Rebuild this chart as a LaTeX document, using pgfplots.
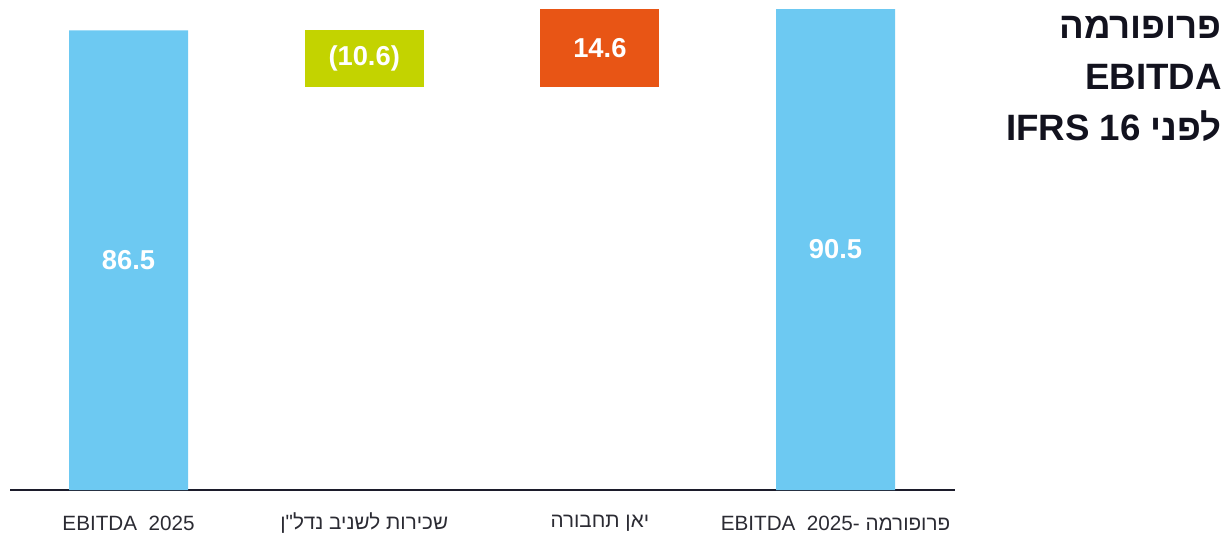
\documentclass[border=0pt]{standalone}
\usepackage{pgfplots}
\pgfplotsset{compat=1.18}
\usepackage{fontspec}
\setmainfont{Liberation Sans}
\newfontfamily\hebfont[Script=Hebrew]{Liberation Sans}
\TeXXeTstate=1
\definecolor{cblue}{HTML}{6DC9F2}
\definecolor{cgreen}{HTML}{C3D300}
\definecolor{corange}{HTML}{E85515}
\definecolor{axiscol}{HTML}{1C1C2B}
\definecolor{labcol}{HTML}{2B2B33}
\definecolor{titcol}{HTML}{12121E}
\pgfplotsset{
  common/.style={
    scale only axis,
    width=708.75pt, height=367.5pt,
    at={(7.5pt,35.25pt)}, anchor=south west,
    xmin=-0.503, xmax=3.507, ymin=0, ymax=92.2,
    clip=false,
  }
}
\begin{document}
\begin{tikzpicture}
\path[use as bounding box] (0,0) rectangle (920.25pt,402.75pt);
\begin{axis}[common,
  ybar stacked, bar width=89.25pt,
  axis x line=bottom, axis y line=none,
  x axis line style={-, draw=axiscol, line width=1.3pt},
  xtick={0,1,2,3}, major tick length=0pt, ytick=\empty,
  xticklabels={{EBITDA\ \ 2025},
    {\hebfont\beginR שכירות לשניב נדל"ן\endR},
    {\hebfont\beginR יאן תחבורה\endR},
    {\hebfont\beginR פרופורמה -\beginL EBITDA\ \ 2025\endL\endR}},
  xticklabel style={anchor=center, yshift=-25pt, font=\fontsize{15.5pt}{18pt}\selectfont, text=labcol},
]
\addplot[draw=none, fill=none] coordinates {(0,0) (1,75.9) (2,75.9) (3,0)};
\addplot[fill=cblue, draw=none] coordinates {(0,86.5) (1,0) (2,0) (3,90.5)};
\addplot[fill=cgreen, draw=none] coordinates {(0,0) (1,10.6) (2,0) (3,0)};
\addplot[fill=corange, draw=none] coordinates {(0,0) (1,0) (2,14.6) (3,0)};
\end{axis}
\begin{axis}[common, hide axis]
\addplot[draw=none, mark=none, nodes near coords, point meta=explicit symbolic,
  nodes near coords style={anchor=center, text=white, font=\bfseries\fontsize{20.5pt}{23pt}\selectfont}]
  table[meta=lab] {
x y lab
0 43.25 86.5
1 81.2 (10.6)
2 83.2 14.6
3 45.25 90.5
};
\end{axis}
\node[anchor=north east, align=right, inner sep=0pt, text=titcol,
  font=\bfseries\fontsize{27.5pt}{38.25pt}\selectfont] at (916.5pt,390.75pt)
  {\hebfont\beginR פרופורמה\endR\\ EBITDA\\ \hebfont\beginR לפני \beginL IFRS 16\endL\endR};
\end{tikzpicture}
\end{document}
